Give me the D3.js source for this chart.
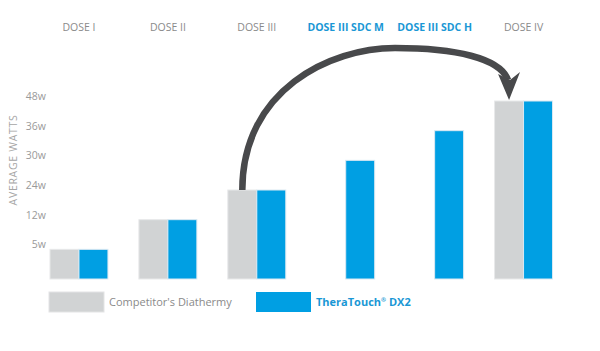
<!DOCTYPE html>
<html>
<head>
<meta charset="utf-8">
<script src="https://cdn.jsdelivr.net/npm/d3@7"></script>
<style>
  body { margin: 0; background: #fff; }
  svg { display: block; font-family: "Open Sans", "DejaVu Sans", sans-serif; }
</style>
</head>
<body>
<div id="chart"></div>
<script>

var categories = ["DOSE I", "DOSE II", "DOSE III", "DOSE III SDC M", "DOSE III SDC H", "DOSE IV"];
var highlighted = ["DOSE III SDC M", "DOSE III SDC H"];
var competitor = [5, 12, 24, null, null, 48];
var theratouch = [5, 12, 24, 30, 36, 48];
var tickValues = [5, 12, 24, 30, 36, 48];
var tickLabels = ["5w", "12w", "24w", "30w", "36w", "48w"];
var seriesNames = ["Competitor's Diathermy", "TheraTouch"];

var width = 600, height = 351;
var grey = "#d1d3d4", blue = "#009fe3", textBlue = "#1a97d5";

var svg = d3.select("#chart")
  .append("svg")
  .attr("width", width)
  .attr("height", height);

var x = d3.scaleBand()
  .domain(categories)
  .range([34.5, 568])
  .paddingInner(0.348)
  .paddingOuter(0.174);

var xSub = d3.scaleBand()
  .domain(["comp", "dx2"])
  .range([0, x.bandwidth()]);

// axis is stepped, every label gets the same spacing
var yBase = 279, yTop = 101;
var step = (yBase - yTop) / tickValues.length;
var y = d3.scaleLinear()
  .domain([0].concat(tickValues))
  .range(d3.range(tickValues.length + 1).map(function(i) { return yBase - i * step; }));

var rows = categories.map(function(c, i) {
  return {cat: c, comp: competitor[i], dx2: theratouch[i]};
});

// headers
svg.selectAll(".head")
  .data(categories)
  .enter().append("text")
  .attr("class", "head")
  .attr("x", function(d) { return x(d) + x.bandwidth() / 2; })
  .attr("y", 31)
  .attr("text-anchor", "middle")
  .attr("font-size", 10.5)
  .attr("font-weight", function(d) { return highlighted.indexOf(d) >= 0 ? "bold" : "normal"; })
  .attr("fill", function(d) { return highlighted.indexOf(d) >= 0 ? textBlue : "#8a8a8a"; })
  .text(function(d) { return d; });

// y labels
svg.selectAll(".tick")
  .data(tickValues)
  .enter().append("text")
  .attr("class", "tick")
  .attr("x", 46)
  .attr("y", function(d) { return y(d) - 1; })
  .attr("text-anchor", "end")
  .attr("font-size", 10.5)
  .attr("fill", "#9a9a9a")
  .text(function(d, i) { return tickLabels[i]; });

svg.append("text")
  .attr("transform", "translate(17,160) rotate(-90)")
  .attr("text-anchor", "middle")
  .attr("font-size", 10.5)
  .attr("letter-spacing", 0.7)
  .attr("fill", "#a5a5a5")
  .text("AVERAGE WATTS");

// bars
var groups = svg.selectAll(".grp")
  .data(rows)
  .enter().append("g")
  .attr("class", "grp")
  .attr("transform", function(d) { return "translate(" + x(d.cat) + ",0)"; });

groups.filter(function(d) { return d.comp != null; })
  .append("rect")
  .attr("x", xSub("comp"))
  .attr("y", function(d) { return y(d.comp); })
  .attr("width", xSub.bandwidth())
  .attr("height", function(d) { return yBase - y(d.comp); })
  .attr("fill", grey)
  .attr("stroke", "#e8e9ea")
  .attr("stroke-width", 1);

groups.append("rect")
  .attr("x", xSub("dx2"))
  .attr("y", function(d) { return y(d.dx2); })
  .attr("width", xSub.bandwidth())
  .attr("height", function(d) { return yBase - y(d.dx2); })
  .attr("fill", blue)
  .attr("stroke", "#dbe9f2")
  .attr("stroke-width", 1);

// arrow from dose III to dose IV
var x0 = x("DOSE III") + xSub("comp") + xSub.bandwidth() / 2;
var x1 = x("DOSE IV") + xSub("comp") + xSub.bandwidth() / 2;
var y0 = y(24);
var arc = d3.path();
arc.moveTo(x0, y0);
arc.bezierCurveTo(x0, 90, 330, 48, 395, 48);
arc.bezierCurveTo(455, 48, 500, 58, x1 - 1, 80);
svg.append("path")
  .attr("d", arc.toString())
  .attr("fill", "none")
  .attr("stroke", "#48494b")
  .attr("stroke-width", 6.5);

var head = d3.path();
head.moveTo(x1 - 11, 74);
head.lineTo(x1 + 1, 80);
head.lineTo(x1 + 11, 72);
head.lineTo(x1, y(48) - 1);
head.closePath();
svg.append("path")
  .attr("d", head.toString())
  .attr("fill", "#48494b");

// legend
var legend = svg.selectAll(".leg")
  .data(seriesNames)
  .enter().append("g")
  .attr("class", "leg")
  .attr("transform", function(d, i) { return "translate(" + (i ? 256 : 49) + ",292)"; });

legend.append("rect")
  .attr("width", 55)
  .attr("height", 20)
  .attr("fill", function(d, i) { return i ? blue : grey; })
  .attr("stroke", function(d, i) { return i ? "none" : "#e3e4e5"; });

var legText = legend.append("text")
  .attr("x", 60)
  .attr("y", 14)
  .attr("font-size", 11)
  .attr("font-weight", function(d, i) { return i ? "bold" : "normal"; })
  .attr("fill", function(d, i) { return i ? textBlue : "#8a8a8a"; })
  .text(function(d) { return d; });

legText.filter(function(d, i) { return i == 1; })
  .append("tspan")
  .attr("font-size", 6)
  .attr("dy", -4)
  .text("\u00ae");

legText.filter(function(d, i) { return i == 1; })
  .append("tspan")
  .attr("dy", 4)
  .text(" DX2");

</script>
</body>
</html>
